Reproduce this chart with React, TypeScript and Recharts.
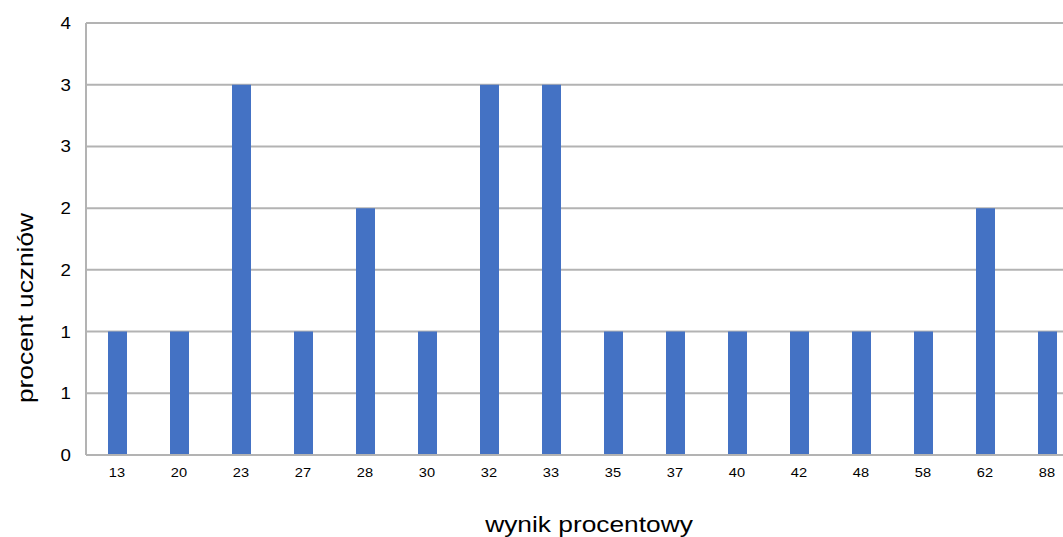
import React from "react";
import { BarChart, Bar, XAxis, YAxis, CartesianGrid, Label } from "recharts";

const scores = ["13", "20", "23", "27", "28", "30", "32", "33", "35", "37", "40", "42", "48", "58", "62", "88"];
const percents = [1, 1, 3, 1, 2, 1, 3, 3, 1, 1, 1, 1, 1, 1, 2, 1];
const yTicks = [0, 0.5, 1, 1.5, 2, 2.5, 3, 3.5];

const data = scores.map((s, i) => ({ score: s, value: percents[i] }));

const FONT = "'Liberation Sans', Arial, sans-serif";
const GRID = "#b3b3b3";
// the original's text is slightly stretched sideways
const SX = 1.17;

const XTick = (props: any) => {
  const { x, y, payload } = props;
  return (
    <g transform={`translate(${x},${y}) scale(${SX},1)`}>
      <text x={0} y={0} dy={16} textAnchor="middle" fontSize={12.5} fill="#000" fontFamily={FONT}>
        {payload.value}
      </text>
    </g>
  );
};

const YTick = (props: any) => {
  const { x, y, payload } = props;
  return (
    <g transform={`translate(${x - 9},${y}) scale(${SX},1)`}>
      <text x={0} y={0} dy={6} textAnchor="end" fontSize={16} fill="#000" fontFamily={FONT}>
        {Math.round(payload.value)}
      </text>
    </g>
  );
};

const App: React.FC = () => {
  return (
    <div
      style={{
        position: "fixed",
        left: 0,
        top: 0,
        width: 1063,
        height: 537,
        overflow: "hidden",
        background: "#fff",
      }}
    >
      <BarChart
        width={1080}
        height={537}
        data={data}
        margin={{ top: 23, right: 2, bottom: 0, left: 0 }}
        barSize={19}
      >
        <CartesianGrid vertical={false} stroke={GRID} strokeWidth={2} />
        <XAxis
          dataKey="score"
          height={82}
          tickLine={false}
          axisLine={{ stroke: GRID, strokeWidth: 2 }}
          tick={<XTick />}
          tickMargin={0}
          interval={0}
        >
          <Label
            content={() => (
              <g transform={`translate(589,532) scale(${SX},1)`}>
                <text x={0} y={0} textAnchor="middle" fontSize={22.5} fill="#000" fontFamily={FONT}>
                  wynik procentowy
                </text>
              </g>
            )}
          />
        </XAxis>
        <YAxis
          width={86}
          domain={[0, 3.5]}
          ticks={yTicks}
          tickLine={false}
          axisLine={{ stroke: GRID, strokeWidth: 2 }}
          tick={<YTick />}
          tickMargin={0}
          interval={0}
        >
          <Label
            content={() => (
              <g transform={`translate(33,308) rotate(-90) scale(${SX},1)`}>
                <text x={0} y={0} textAnchor="middle" fontSize={22.5} fill="#000" fontFamily={FONT}>
                  procent uczniów
                </text>
              </g>
            )}
          />
        </YAxis>
        <Bar dataKey="value" fill="#4472c4" isAnimationActive={false} />
      </BarChart>
    </div>
  );
};

export default App;
